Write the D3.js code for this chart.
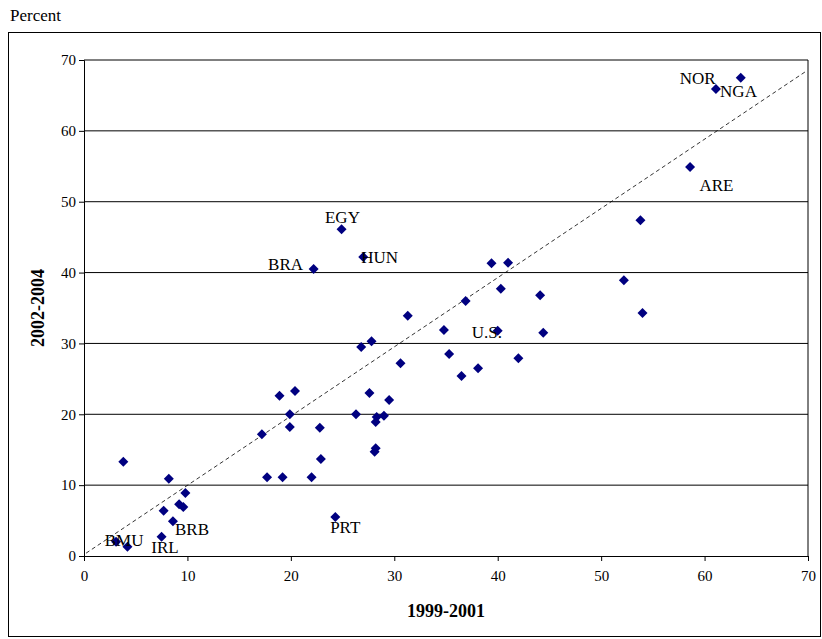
<html>
<head>
<meta charset="UTF-8">
<script src="https://d3js.org/d3.v7.min.js"></script>
<style>
html,body{margin:0;padding:0;background:#fff;}
svg text{font-family:"Liberation Serif",Tinos,Times,serif !important;}
</style>
</head>
<body>
<div id="container"></div>
<script>
const xVals = [3.1,4.2,7.5,8.6,7.7,9.2,9.6,9.8,8.2,3.8,17.2,17.7,19.2,22.0,18.9,20.4,19.9,19.9,22.8,22.9,24.3,26.3,27.6,29.5,28.3,29.0,28.2,28.2,28.1,30.6,24.9,27.0,22.2,39.4,41.0,40.3,36.9,44.1,31.3,34.8,40.0,44.4,26.8,27.8,35.3,42.0,38.1,36.5,52.2,53.8,54.0,58.6,61.1,63.5];
const yVals = [2.0,1.3,2.7,4.9,6.4,7.3,6.9,8.9,10.9,13.3,17.2,11.1,11.1,11.1,22.6,23.3,20.0,18.2,18.1,13.7,5.5,20.0,23.0,22.0,19.6,19.8,18.9,15.2,14.7,27.2,46.1,42.2,40.5,41.3,41.4,37.7,36.0,36.8,33.9,31.9,31.8,31.5,29.5,30.3,28.5,27.9,26.5,25.4,38.9,47.4,34.3,54.9,65.9,67.5];
const labels = ["BMU","IRL","BRB","PRT","EGY","BRA","HUN","U.S.","NOR","NGA","ARE"];
const labelX = [2,6.5,8.8,23.8,23.3,17.8,26.8,37.5,57.6,61.5,59.5];
const labelY = [2.2,1.3,3.8,4.1,47.9,41.2,42.2,31.6,67.5,65.6,52.3];
const xTicks = [0,10,20,30,40,50,60,70];
const yTicks = [0,10,20,30,40,50,60,70];

const W = 822, H = 639;
const m = {left:84, right:14, top:60, bottom:83};
const svg = d3.select("#container").append("svg").attr("width",W).attr("height",H);
const x = d3.scaleLinear().domain([0,70]).range([m.left, W-m.right]);
const y = d3.scaleLinear().domain([0,70]).range([H-m.bottom, m.top]);

svg.append("rect").attr("x",8.5).attr("y",32.5).attr("width",812).attr("height",604)
  .attr("fill","none").attr("stroke","#000");
svg.append("text").attr("x",10).attr("y",21).attr("font-size",17).text("Percent");

svg.selectAll(".grid").data(yTicks.slice(1)).enter().append("line")
  .attr("x1",x(0)).attr("x2",x(70)).attr("y1",d=>y(d)).attr("y2",d=>y(d))
  .attr("stroke","#000").attr("stroke-width",1);
svg.append("line").attr("x1",x(70)).attr("x2",x(70)).attr("y1",y(0)).attr("y2",y(70))
  .attr("stroke","#000").attr("stroke-width",1);

const xa = svg.append("g").attr("transform","translate(0,"+y(0)+")").call(d3.axisBottom(x).tickValues(xTicks).tickSizeOuter(0).tickSize(5));
const ya = svg.append("g").attr("transform","translate("+x(0)+",0)").call(d3.axisLeft(y).tickValues(yTicks).tickSizeOuter(0).tickSize(5));
[xa,ya].forEach(a=>{a.selectAll("text").attr("font-size",15).attr("fill","#000");a.select(".domain").attr("stroke","#000");});
xa.selectAll("text").attr("dy","1.1em");

svg.append("line").attr("x1",x(0.2)).attr("y1",y(0.4)).attr("x2",x(69.7)).attr("y2",y(68.3))
  .attr("stroke","#000").attr("stroke-dasharray","4,3").attr("stroke-width",0.8);

svg.selectAll(".pt").data(xVals).enter().append("path")
  .attr("d","M0,-5L5,0L0,5L-5,0Z")
  .attr("transform",(d,i)=>"translate("+x(d)+","+y(yVals[i])+")")
  .attr("fill","#000080");

svg.selectAll(".lab").data(labels).enter().append("text")
  .attr("x",(d,i)=>x(labelX[i])).attr("y",(d,i)=>y(labelY[i])).attr("dy","0.35em")
  .attr("font-size",17).text(d=>d);

svg.append("text").attr("x",(x(0)+x(70))/2).attr("y",617).attr("text-anchor","middle")
  .attr("font-size",18).attr("font-weight","bold").text("1999-2001");
svg.append("text").attr("transform","translate(44,"+((y(0)+y(70))/2)+") rotate(-90)")
  .attr("text-anchor","middle").attr("font-size",18).attr("font-weight","bold").text("2002-2004");
</script>
</body>
</html>
